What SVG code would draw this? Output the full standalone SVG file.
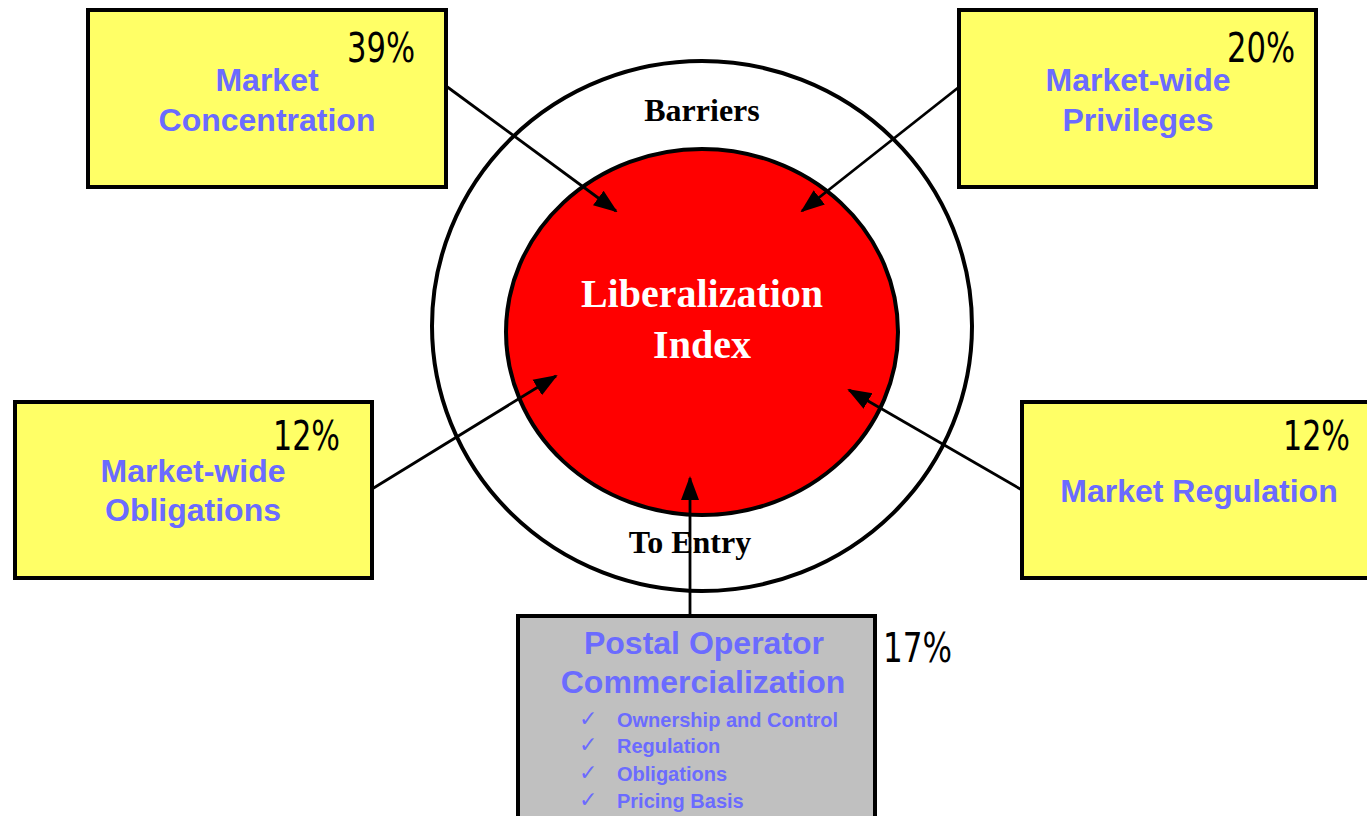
<svg xmlns="http://www.w3.org/2000/svg" width="1367" height="816" viewBox="0 0 1367 816">
  <defs>
    <style>
      .box { fill: #FFFF66; stroke: #000; stroke-width: 4; }
      .gray { fill: #C0C0C0; stroke: #000; stroke-width: 4; }
      .label { font-family: "Liberation Sans", Arial, sans-serif; font-weight: bold; fill: #6B6BFF; font-size: 32px; text-anchor: middle; }
      .pct { font-family: "Liberation Sans Narrow", "DejaVu Sans Condensed", "Liberation Sans", sans-serif; fill: #000; font-size: 40px; }
      .item { font-family: "Liberation Sans", Arial, sans-serif; font-weight: bold; fill: #6B6BFF; font-size: 20px; }
      .tick { font-family: "DejaVu Sans", sans-serif; fill: #6B6BFF; font-size: 22px; }
      .ring { font-family: "Liberation Serif", "Times New Roman", serif; font-weight: bold; fill: #000; font-size: 32px; text-anchor: middle; }
      .core { font-family: "Liberation Serif", "Times New Roman", serif; font-weight: bold; fill: #FFF; font-size: 40px; text-anchor: middle; }
      .conn { stroke: #000; stroke-width: 2.8; fill: none; marker-end: url(#arrow); }
    </style>
    <marker id="arrow" markerUnits="userSpaceOnUse" markerWidth="24" markerHeight="20" viewBox="0 0 24 20" refX="22" refY="10" orient="auto">
      <path d="M0,1 L24,10 L0,19 Z" fill="#000"/>
    </marker>
  </defs>

  <rect width="1367" height="816" fill="#FFF"/>

  <!-- barrier ring and index core -->
  <g id="index">
    <ellipse cx="702" cy="326" rx="270" ry="265" fill="#FFF" stroke="#000" stroke-width="4"/>
    <ellipse cx="702" cy="332" rx="196" ry="183" fill="#FF0000" stroke="#000" stroke-width="4"/>
    <text class="ring" x="702" y="121">Barriers</text>
    <text class="ring" x="690" y="553">To Entry</text>
    <text class="core" x="702" y="307">Liberalization</text>
    <text class="core" x="702" y="358">Index</text>
  </g>

  <g id="market-concentration">
    <rect class="box" x="88" y="10" width="358" height="177"/>
    <text class="pct" x="347" y="62" textLength="68" lengthAdjust="spacingAndGlyphs">39%</text>
    <text class="label" x="267" y="91">Market</text>
    <text class="label" x="267" y="131">Concentration</text>
  </g>

  <g id="market-wide-privileges">
    <rect class="box" x="959" y="10" width="357" height="177"/>
    <text class="pct" x="1227" y="62" textLength="68" lengthAdjust="spacingAndGlyphs">20%</text>
    <text class="label" x="1138" y="91">Market-wide</text>
    <text class="label" x="1138" y="131">Privileges</text>
  </g>

  <g id="market-wide-obligations">
    <rect class="box" x="15" y="402" width="357" height="176"/>
    <text class="pct" x="273" y="450" textLength="67" lengthAdjust="spacingAndGlyphs">12%</text>
    <text class="label" x="193" y="482">Market-wide</text>
    <text class="label" x="193" y="521">Obligations</text>
  </g>

  <g id="market-regulation">
    <rect class="box" x="1022" y="402" width="360" height="176"/>
    <text class="pct" x="1283" y="450" textLength="67" lengthAdjust="spacingAndGlyphs">12%</text>
    <text class="label" x="1199" y="502">Market Regulation</text>
  </g>

  <g id="postal-operator">
    <rect class="gray" x="518" y="616" width="357" height="220"/>
    <text class="pct" x="883" y="662" textLength="69" lengthAdjust="spacingAndGlyphs">17%</text>
    <text class="label" x="704" y="654">Postal Operator</text>
    <text class="label" x="703" y="693">Commercialization</text>
    <text class="tick" x="579" y="726">✓</text>
    <text class="item" x="617" y="727">Ownership and Control</text>
    <text class="tick" x="579" y="752">✓</text>
    <text class="item" x="617" y="753">Regulation</text>
    <text class="tick" x="579" y="780">✓</text>
    <text class="item" x="617" y="781">Obligations</text>
    <text class="tick" x="579" y="807">✓</text>
    <text class="item" x="617" y="808">Pricing Basis</text>
  </g>

  <g id="connectors">
    <line class="conn" x1="446" y1="86" x2="616" y2="211"/>
    <line class="conn" x1="959" y1="87" x2="802" y2="211"/>
    <line class="conn" x1="372" y1="489" x2="556" y2="376"/>
    <line class="conn" x1="1022" y1="490" x2="849" y2="390"/>
    <line class="conn" x1="690" y1="616" x2="690" y2="478"/>
  </g>
</svg>
